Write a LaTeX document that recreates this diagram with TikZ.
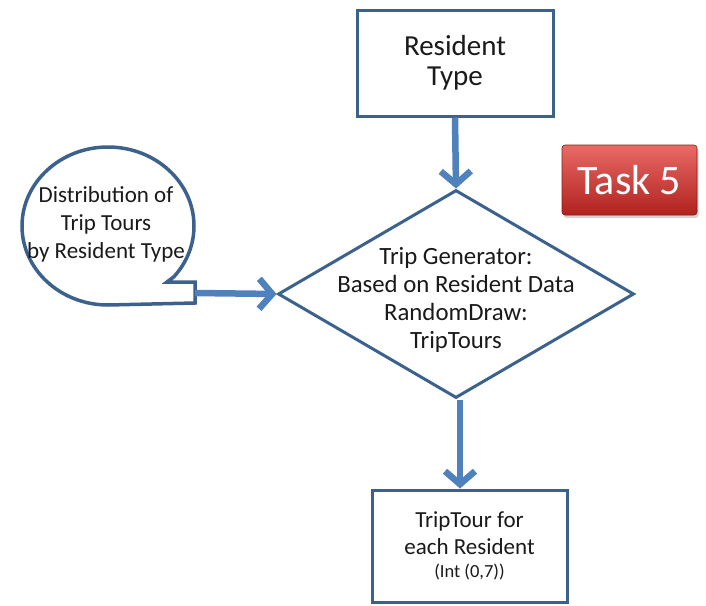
\documentclass[tikz,border=0pt]{standalone}
\usepackage{fontspec}
\setmainfont{Carlito}
\usetikzlibrary{arrows.meta,shapes.geometric,shadows,calc}
\definecolor{edgeblue}{HTML}{3B618C}
\definecolor{arrblue}{HTML}{4F81BD}
\definecolor{ink}{HTML}{1A1A1A}
\definecolor{taskTop}{HTML}{E86A66}
\definecolor{taskBot}{HTML}{B0221E}
\begin{document}
\begin{tikzpicture}[x=1pt,y=-1pt,
  boxnode/.style={draw=edgeblue, line width=3pt, fill=white, text=ink, align=center, inner sep=0pt},
  flow/.style={draw=arrblue, line width=6.5pt, -{Straight Barb[length=13pt,width=30pt]}},
  txt/.style={text=ink, align=center, inner sep=0pt}]
\useasboundingbox (0,0) rectangle (706,605);
% Resident Type
\node[boxnode, minimum width=196pt, minimum height=106pt,
      font=\fontsize{29}{30}\selectfont] (rt) at (455,63) {Resident\\Type};
% Decision diamond
\node[diamond, draw=edgeblue, line width=3pt, fill=white, inner sep=0pt,
      minimum width=356pt, minimum height=208pt] (dia) at (456,294) {};
\node[txt, font=\fontsize{24.8}{28}\selectfont] (diatext) at ($(dia.center)+(0,6)$)
  {Trip Generator:\\Based on Resident Data\\RandomDraw:\\TripTours};
% Output box
\node[boxnode, minimum width=195pt, minimum height=112pt,
      font=\fontsize{23}{27}\selectfont] (out) at (469.5,546)
  {TripTour for\\each Resident\\[-4pt]\fontsize{18.5}{20}\selectfont (Int (0,7))};
% Callout
\draw[draw=edgeblue, line width=3.5pt, fill=white, line join=miter]
  (108,305) arc[start angle=90, end angle=400, x radius=86, y radius=79]
  -- (167,282) -- (195,282) -- (195,303) -- cycle;
\coordinate (tail) at (195,293);
\node[txt, font=\fontsize{23}{28}\selectfont] (dist) at (106,224)
  {Distribution of\\Trip Tours\\by Resident Type};
% Task 5 label
\node[draw=taskBot!80!black, line width=0.6pt, rounded corners=3pt,
      top color=taskTop, bottom color=taskBot,
      drop shadow={shadow xshift=1.5pt, shadow yshift=-3pt, opacity=0.35},
      minimum width=135pt, minimum height=70pt, text=white,
      font=\fontsize{42}{44}\selectfont] (task) at (629.5,180) {Task 5};
% Connectors
\coordinate (bstart) at ($(dia.south)+(4,0)$);
\draw[flow] (rt.south) -- (dia.north);
\draw[flow] (tail) -- (dia.west);
\draw[flow] (bstart) -- (bstart |- out.north);
\end{tikzpicture}
\end{document}
